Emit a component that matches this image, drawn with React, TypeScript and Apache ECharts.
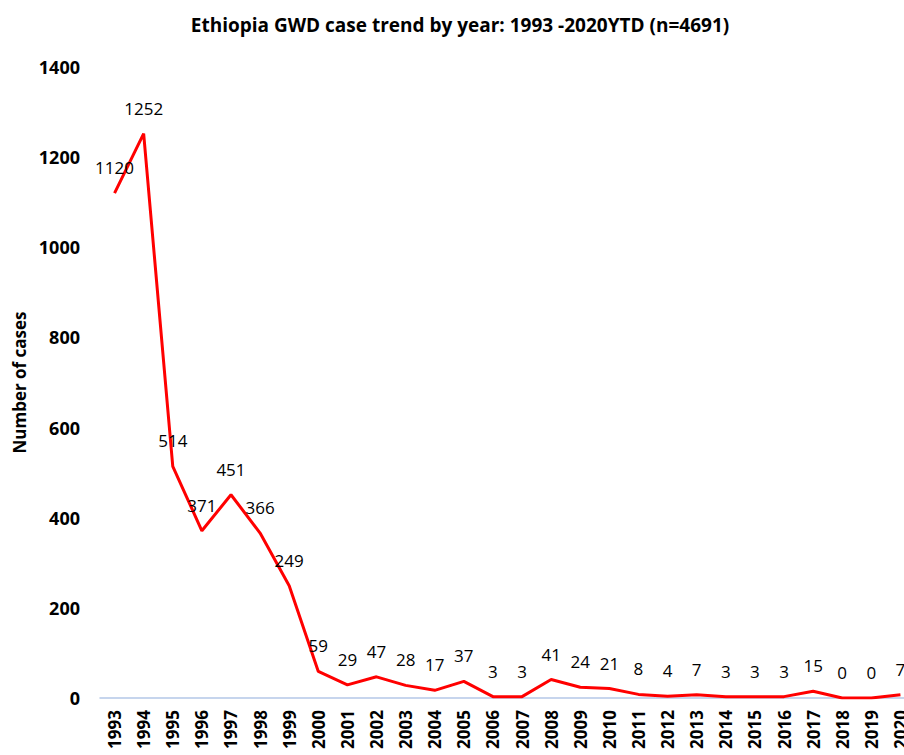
import React, { useEffect, useRef } from "react";
import * as echarts from "echarts";

const years = ["1993","1994","1995","1996","1997","1998","1999","2000","2001","2002","2003","2004","2005","2006","2007","2008","2009","2010","2011","2012","2013","2014","2015","2016","2017","2018","2019","2020"];
const cases = [1120,1252,514,371,451,366,249,59,29,47,28,17,37,3,3,41,24,21,8,4,7,3,3,3,15,0,0,7];
const titleText = "Ethiopia GWD case trend by year: 1993 -2020YTD (n=4691)";
const yAxisName = "Number of cases";

const FONT = "'Open Sans', 'Noto Sans', sans-serif";

export default function App() {
  const ref = useRef<HTMLDivElement>(null);
  useEffect(() => {
    const chart = echarts.init(ref.current!, null, { renderer: "svg" });
    chart.setOption({
      animation: false,
      backgroundColor: "#fff",
      title: {
        text: titleText,
        left: 455,
        textAlign: "center",
        top: 10,
        textStyle: { fontFamily: FONT, fontWeight: "bold", fontSize: 19, color: "#000" },
      },
      grid: { left: 100, top: 67, right: 0, height: 631, containLabel: false },
      xAxis: {
        type: "category",
        data: years,
        boundaryGap: true,
        axisLine: { lineStyle: { color: "#B4C7E7", width: 1.5 } },
        axisTick: { show: false },
        axisLabel: {
          rotate: 90,
          interval: 0,
          margin: 12,
          fontFamily: FONT,
          fontWeight: "bold",
          fontSize: 17,
          color: "#000",
        },
      },
      yAxis: {
        type: "value",
        min: 0,
        max: 1400,
        interval: 200,
        name: yAxisName,
        nameLocation: "middle",
        nameGap: 71,
        nameRotate: 90,
        nameTextStyle: { fontFamily: FONT, fontWeight: "bold", fontSize: 17, color: "#000" },
        axisLine: { show: false },
        axisTick: { show: false },
        splitLine: { show: false },
        axisLabel: {
          margin: 20,
          formatter: (v: number) => String(v),
          fontFamily: FONT,
          fontWeight: "bold",
          fontSize: 18,
          color: "#000",
        },
      },
      series: [
        {
          type: "line",
          data: cases,
          showSymbol: true,
          symbol: "circle",
          symbolSize: 2,
          lineStyle: { color: "#FF0000", width: 3 },
          itemStyle: { color: "rgba(255,0,0,0)", borderWidth: 0 },
          label: {
            show: true,
            position: "top",
            distance: 16,
            fontFamily: FONT,
            fontSize: 17,
            color: "#000",
          },
        },
      ],
    });
    return () => chart.dispose();
  }, []);
  return (
    <div style={{ position: "absolute", left: 0, top: 0, width: 904, height: 755, overflow: "hidden" }}>
      <div ref={ref} style={{ width: 915, height: 755 }} />
    </div>
  );
}
